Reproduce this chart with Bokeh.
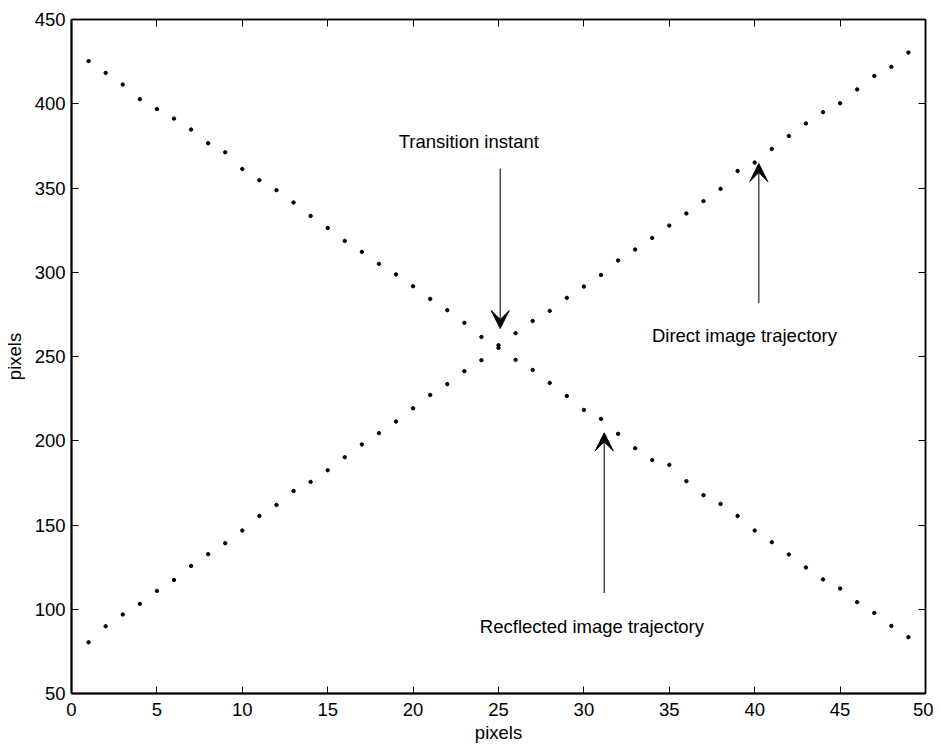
from bokeh.plotting import figure
from bokeh.models import LinearAxis, FixedTicker, Arrow, VeeHead, ColumnDataSource, Range1d
from bokeh.models.labeling import CustomLabelingPolicy
from bokeh.core.properties import value
from bokeh.embed import file_html
from bokeh.resources import INLINE

# ---- data ----
frame_idx = [1, 2, 3, 4, 5, 6, 7, 8, 9, 10, 11, 12, 13, 14, 15, 16, 17, 18, 19, 20,
             21, 22, 23, 24, 25, 26, 27, 28, 29, 30, 31, 32, 33, 34, 35, 36, 37, 38, 39, 40,
             41, 42, 43, 44, 45, 46, 47, 48, 49]
direct_traj = [80.4, 89.9, 96.9, 103.2, 110.9, 117.4, 125.7, 132.7, 139.2, 146.7,
               155.4, 161.9, 170.2, 175.6, 182.5, 190.2, 197.8, 204.5, 211.4, 219.3,
               227.2, 233.6, 241.3, 247.8, 255.1, 263.8, 271.1, 277.1, 284.8, 291.5,
               298.4, 307.0, 313.5, 320.4, 327.7, 334.9, 342.2, 349.5, 360.1, 365.1,
               373.2, 380.9, 388.3, 395.0, 400.3, 408.5, 416.5, 421.9, 430.4]
reflected_traj = [425.3, 418.3, 411.4, 402.7, 396.8, 391.2, 384.7, 376.6, 371.2, 361.3,
                  354.6, 348.7, 341.4, 333.4, 326.3, 318.6, 312.1, 305.0, 298.7, 291.7,
                  284.2, 277.5, 270.0, 261.6, 256.7, 248.0, 242.0, 234.3, 226.6, 218.3,
                  213.0, 204.1, 195.6, 188.5, 185.7, 176.0, 167.7, 162.5, 155.4, 146.7,
                  139.8, 132.5, 124.8, 117.7, 112.3, 104.2, 97.8, 90.1, 83.4]
x_ticks = [0, 5, 10, 15, 20, 25, 30, 35, 40, 45, 50]
y_ticks = [50, 100, 150, 200, 250, 300, 350, 400, 450]

ann_texts = ["Transition instant", "Direct image trajectory", "Recflected image trajectory"]
ann_x = [23.26, 39.40, 30.47]
ann_y = [377.4, 262.6, 89.5]
arrow_x = [25.10, 40.24, 31.19]
arrow_y_start = [361.6, 281.8, 109.7]
arrow_y_end = [266.6, 364.5, 204.7]

FONT = "Liberation Sans"
FS = "18.5px"

p = figure(frame_width=854, frame_height=674, output_backend="svg", toolbar_location=None,
           x_range=Range1d(0, 50), y_range=Range1d(50, 450),
           min_border_left=64, min_border_right=8, min_border_top=19, min_border_bottom=53)
p.background_fill_color = "white"
p.border_fill_color = "white"
p.grid.visible = False
p.outline_line_color = "black"
p.outline_line_width = 1.5

for ax in (p.xaxis[0], p.yaxis[0]):
    ax.major_tick_in = 7
    ax.major_tick_out = 0
    ax.minor_tick_in = 0
    ax.minor_tick_out = 0
    ax.axis_line_width = 2
    ax.axis_line_color = "black"
    ax.major_tick_line_color = "black"
    ax.major_label_text_font = FONT
    ax.major_label_text_font_size = FS
    ax.major_label_text_color = "black"
    ax.axis_label_text_font = FONT
    ax.axis_label_text_font_size = FS
    ax.axis_label_text_font_style = "normal"
    ax.axis_label_text_color = "black"

p.xaxis[0].ticker = FixedTicker(ticks=x_ticks)
p.yaxis[0].ticker = FixedTicker(ticks=y_ticks)
p.xaxis[0].axis_label = "pixels"
p.yaxis[0].axis_label = "pixels"
p.xaxis[0].major_label_standoff = 9
p.xaxis[0].axis_label_standoff = 3
p.yaxis[0].major_label_standoff = 6
p.yaxis[0].axis_label_standoff = 7

hide_all = CustomLabelingPolicy(code="const a = Array.from(indices); for (const i of a) indices.unset(i); return indices")
for loc, ticks in (("above", x_ticks), ("right", y_ticks)):
    ax = LinearAxis(ticker=FixedTicker(ticks=ticks), major_label_policy=hide_all)
    ax.major_tick_in = 7
    ax.major_tick_out = 0
    ax.minor_tick_in = 0
    ax.minor_tick_out = 0
    ax.major_label_text_font_size = "1px"
    ax.major_label_standoff = 0
    ax.axis_line_width = 1.5
    ax.axis_line_color = "black"
    p.add_layout(ax, loc)

src = ColumnDataSource(dict(x=frame_idx, d=direct_traj, r=reflected_traj))
p.scatter("x", "d", source=src, size=3.4, color="black")
p.scatter("x", "r", source=src, size=3.4, color="black")

for xa, y0, y1 in zip(arrow_x, arrow_y_start, arrow_y_end):
    p.add_layout(Arrow(end=VeeHead(size=18, fill_color="black", line_color="black", line_width=1),
                       x_start=xa, y_start=y0, x_end=xa, y_end=y1,
                       line_color="#333333", line_width=1.3))

p.text(x=ann_x, y=ann_y, text=ann_texts, text_font=value(FONT), text_font_size=FS,
       text_align="center", text_baseline="alphabetic", text_color="black")

open("out.html", "w").write(file_html(p, INLINE))
